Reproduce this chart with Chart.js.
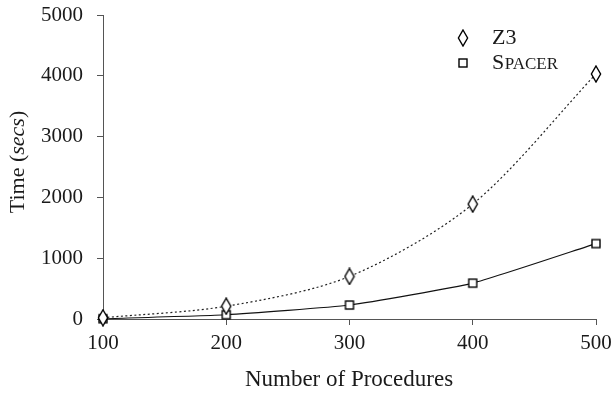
<!DOCTYPE html>
<html><head><meta charset="utf-8">
<script src="https://cdn.jsdelivr.net/npm/chart.js@4/dist/chart.umd.min.js"></script>
<style>html,body{margin:0;padding:0;background:#fff}#wrap{width:612px;height:394px;position:relative}</style>
</head><body><div id="wrap"><canvas id="c" width="612" height="394"></canvas></div>
<script>
const procedures = [100, 200, 300, 400, 500];
const z3Times = [20, 210, 700, 1890, 4030];
const spacerTimes = [5, 70, 230, 590, 1240];
const xTicks = [100, 200, 300, 400, 500];
const yTicks = [0, 1000, 2000, 3000, 4000, 5000];
const seriesLabels = ['Z3', 'Spacer'];

const FONT = '"Liberation Serif", "DejaVu Serif", serif';
const TXT = '#1a1a1a';
const AX = '#555';

function diamondCanvas() {
  const c = document.createElement('canvas');
  c.width = 12; c.height = 18;
  const g = c.getContext('2d');
  g.beginPath();
  g.moveTo(6, 1); g.lineTo(10.6, 9); g.lineTo(6, 17); g.lineTo(1.4, 9); g.closePath();
  g.fillStyle = '#fff'; g.fill();
  g.strokeStyle = '#000'; g.lineWidth = 1.4; g.stroke();
  return c;
}
function squareCanvas() {
  const c = document.createElement('canvas');
  c.width = 12; c.height = 12;
  const g = c.getContext('2d');
  g.fillStyle = '#fff'; g.fillRect(2, 2, 8, 8);
  g.strokeStyle = '#000'; g.lineWidth = 1.4; g.strokeRect(2, 2, 8, 8);
  return c;
}
const diamond = diamondCanvas();
const square = squareCanvas();

const customText = {
  id: 'customText',
  afterDraw(chart) {
    const ctx = chart.ctx;
    ctx.save();
    ctx.fillStyle = TXT;
    ctx.textBaseline = 'middle';
    const items = [
      {img: diamond, label: seriesLabels[0], y: 38},
      {img: square, label: seriesLabels[1], y: 63}
    ];
    items.forEach((it, i) => {
      ctx.drawImage(it.img, Math.round(463 - it.img.width / 2), Math.round(it.y - it.img.height / 2));
      ctx.textAlign = 'left';
      if (i === 1) {
        const first = it.label[0];
        const rest = it.label.slice(1).toUpperCase();
        ctx.font = '22px ' + FONT;
        ctx.fillText(first, 492, it.y);
        const w = ctx.measureText(first).width;
        ctx.font = '17px ' + FONT;
        ctx.fillText(rest, 492 + w + 0.5, it.y + 1.5);
      } else {
        ctx.font = '22px ' + FONT;
        ctx.fillText(it.label, 492, it.y);
      }
    });
    ctx.translate(18, 162);
    ctx.rotate(-Math.PI / 2);
    const parts = [['Time (', 'normal'], ['secs', 'italic'], [')', 'normal']];
    let total = 0;
    parts.forEach(p => { ctx.font = p[1] + ' 22px ' + FONT; total += ctx.measureText(p[0]).width; });
    let x = -total / 2;
    parts.forEach(p => { ctx.font = p[1] + ' 22px ' + FONT; ctx.fillText(p[0], x, 0); x += ctx.measureText(p[0]).width; });
    ctx.restore();
    ctx.save();
    ctx.fillStyle = TXT;
    ctx.font = '23px ' + FONT;
    ctx.textAlign = 'center';
    ctx.textBaseline = 'middle';
    ctx.fillText('Number of Procedures', 349, 380);
    ctx.restore();
  }
};

new Chart(document.getElementById('c'), {
  type: 'line',
  data: {
    datasets: [
      {
        label: seriesLabels[0],
        data: procedures.map((p, i) => ({x: p, y: z3Times[i]})),
        borderColor: '#222', borderWidth: 1.2, borderDash: [2, 2.5],
        pointStyle: diamond, tension: 0.3, fill: false, clip: false
      },
      {
        label: seriesLabels[1],
        data: procedures.map((p, i) => ({x: p, y: spacerTimes[i]})),
        borderColor: '#111', borderWidth: 1.1,
        pointStyle: square, tension: 0.15, fill: false, clip: false
      }
    ]
  },
  options: {
    responsive: false,
    animation: false,
    devicePixelRatio: 1,
    layout: {padding: {top: 15, right: 16, left: 0, bottom: 0}},
    plugins: {legend: {display: false}, tooltip: {enabled: false}},
    scales: {
      x: {
        type: 'linear', min: 100, max: 500,
        afterBuildTicks: s => { s.ticks = xTicks.map(v => ({value: v})); },
        afterFit: s => { s.paddingLeft = 0; s.paddingRight = 0; s.height = 75; },
        grid: {display: true, drawOnChartArea: false, drawTicks: true, tickLength: 6, color: AX, lineWidth: 1},
        border: {display: true, color: AX, width: 1},
        ticks: {color: TXT, font: {family: FONT, size: 21}, padding: 6, maxRotation: 0, callback: v => String(v)}
      },
      y: {
        type: 'linear', min: 0, max: 5000,
        afterBuildTicks: s => { s.ticks = yTicks.map(v => ({value: v})); },
        afterFit: s => { s.paddingTop = 0; s.paddingBottom = 0; s.width = 103; },
        grid: {display: true, drawOnChartArea: false, drawTicks: true, tickLength: 6, color: AX, lineWidth: 1},
        border: {display: true, color: AX, width: 1},
        ticks: {color: TXT, font: {family: FONT, size: 21}, padding: 14, callback: v => String(v)}
      }
    }
  },
  plugins: [customText]
});
</script>
</body></html>
